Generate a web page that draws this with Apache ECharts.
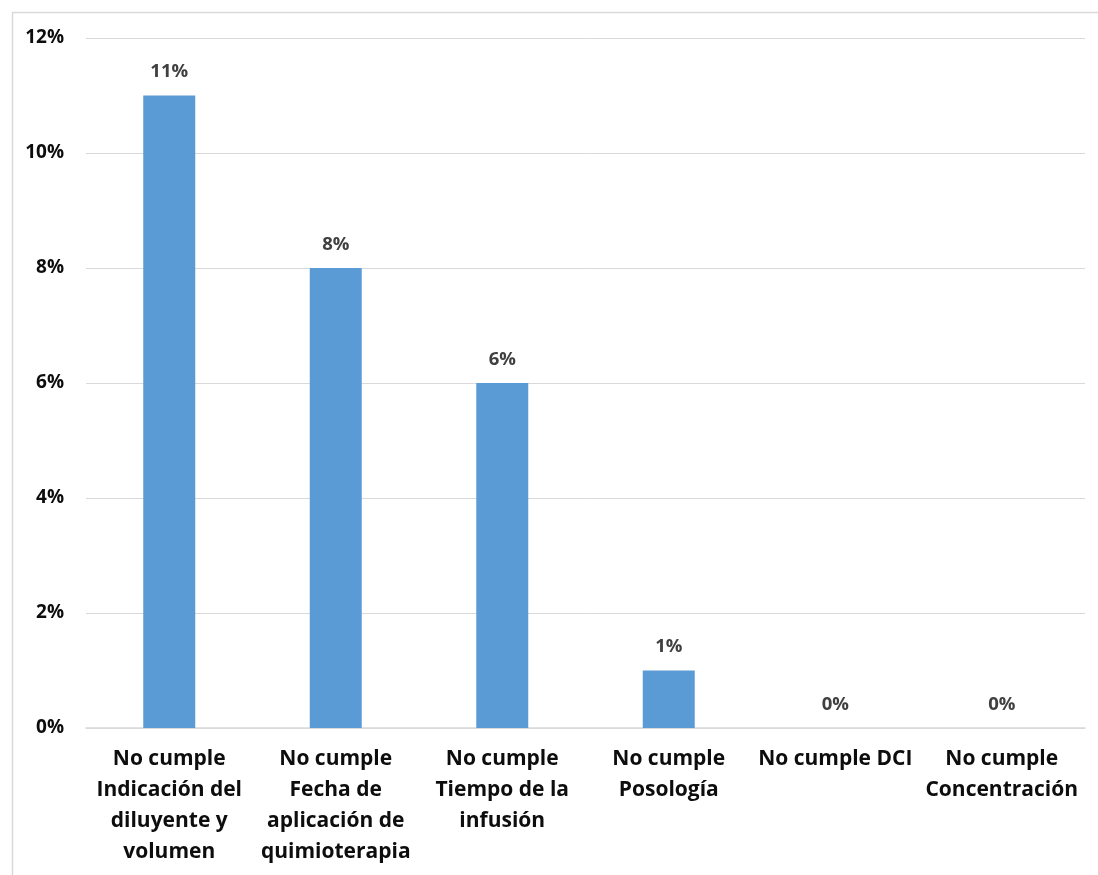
<!DOCTYPE html>
<html>
<head>
<meta charset="utf-8">
<style>
  html, body { margin: 0; padding: 0; background: #ffffff; }
  #chart { width: 1098px; height: 875px; }
</style>
<script src="https://cdn.jsdelivr.net/npm/echarts@6/dist/echarts.min.js"></script>
</head>
<body>
<div id="chart"></div>
<script>
// Categories of non-compliance (wrapped as shown under each bar)
const categories = [
  'No cumple\nIndicación del\ndiluyente y\nvolumen',
  'No cumple\nFecha de\naplicación de\nquimioterapia',
  'No cumple\nTiempo de la\ninfusión',
  'No cumple\nPosología',
  'No cumple DCI',
  'No cumple\nConcentración'
];
// Share of records, in percent
const values = [11, 8, 6, 1, 0, 0];
// Value axis ticks
const yTicks = [0, 2, 4, 6, 8, 10, 12];

const font = '"Open Sans", "Noto Sans", sans-serif';

const chart = echarts.init(document.getElementById('chart'), null, { renderer: 'canvas' });
chart.setOption({
  animation: false,
  backgroundColor: '#ffffff',
  graphic: [{
    type: 'rect',
    left: 10, top: 10,
    shape: { width: 1200, height: 1000 },
    style: { fill: 'none', stroke: '#d9d9d9', lineWidth: 1.5 },
    silent: true, z: -1
  }],
  grid: { left: 86, right: 13, top: 38, bottom: 147 },
  xAxis: {
    type: 'category',
    data: categories,
    axisLine: { show: true, lineStyle: { color: '#d9d9d9', width: 1.5 } },
    axisTick: { show: false },
    axisLabel: {
      interval: 0,
      margin: 16,
      color: '#0d0d0d',
      fontFamily: font,
      fontWeight: 'bold',
      fontSize: 21,
      lineHeight: 31,
      align: 'center'
    }
  },
  yAxis: {
    type: 'value',
    min: yTicks[0],
    max: yTicks[yTicks.length - 1],
    interval: 2,
    axisLine: { show: false },
    axisTick: { show: false },
    splitLine: { lineStyle: { color: '#d9d9d9', width: 1 } },
    axisLabel: {
      margin: 22,
      color: '#0d0d0d',
      fontFamily: font,
      fontWeight: 'bold',
      fontSize: 19,
      formatter: v => v + '%'
    }
  },
  series: [{
    type: 'bar',
    data: values,
    barWidth: 52,
    itemStyle: { color: '#5b9bd5' },
    label: {
      show: true,
      position: 'top',
      distance: 14,
      color: '#404040',
      fontFamily: font,
      fontWeight: 'bold',
      fontSize: 18.5,
      formatter: p => p.value + '%'
    }
  }]
});
</script>
</body>
</html>
